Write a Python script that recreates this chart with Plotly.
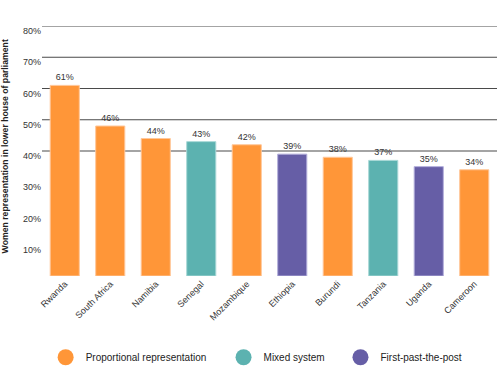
import plotly.graph_objects as go

countries = ["Rwanda", "South Africa", "Namibia", "Senegal", "Mozambique",
             "Ethiopia", "Burundi", "Tanzania", "Uganda", "Cameroon"]
bar_values = [61, 48, 44, 43, 42, 39, 38, 37, 35, 34]
value_labels = ["61%", "46%", "44%", "43%", "42%", "39%", "38%", "37%", "35%", "34%"]
systems = ["PR", "PR", "PR", "MX", "PR", "FP", "PR", "MX", "FP", "PR"]

system_order = ["PR", "MX", "FP"]
system_names = {"PR": "Proportional representation", "MX": "Mixed system", "FP": "First-past-the-post"}
system_colors = {"PR": "#FF9638", "MX": "#5CB2B0", "FP": "#665EA6"}
system_edges = {"PR": "#FFC79A", "MX": "#A8D8D6", "FP": "#B3AEDB"}
legend_x = {"PR": 0.008, "MX": 0.399, "FP": 0.656}

y_ticks = [10, 20, 30, 40, 50, 60, 70, 80]
grid_values = [40, 50, 60, 70, 80]

FONT = "Liberation Sans, Arial, sans-serif"

fig = go.Figure()
fig.add_trace(go.Bar(
    x=countries, y=bar_values,
    marker=dict(color=[system_colors[s] for s in systems],
                line=dict(color=[system_edges[s] for s in systems], width=1)),
    text=value_labels, textposition="outside", cliponaxis=False,
    textfont=dict(size=9, color="#333333", family=FONT),
    showlegend=False, hoverinfo="x+y",
))
legend_layouts = {}
for i, key in enumerate(system_order):
    lname = "legend" if i == 0 else f"legend{i+1}"
    fig.add_trace(go.Scatter(
        x=[None], y=[None], mode="markers", name=system_names[key], legend=lname,
        marker=dict(symbol="circle", size=18, color=system_colors[key]),
    ))
    legend_layouts[lname] = dict(orientation="h", x=legend_x[key], xanchor="left",
                                 y=-0.325, yanchor="middle",
                                 font=dict(size=10, color="#222222"),
                                 bgcolor="rgba(0,0,0,0)")

shapes = [dict(type="line", xref="paper", x0=0, x1=1, yref="y", y0=g, y1=g,
               line=dict(color="#4a4a4a", width=1.2), layer="below") for g in grid_values]

fig.update_layout(
    width=497, height=369,
    margin=dict(l=42, r=0, t=26, b=92.5, autoexpand=False),
    paper_bgcolor="white", plot_bgcolor="white",
    font=dict(family=FONT, size=9, color="#333333"),
    bargap=0.36,
    shapes=shapes,
    xaxis=dict(categoryorder="array", categoryarray=countries, tickangle=-45,
               showgrid=False, showline=False, ticks="", zeroline=False,
               automargin=False, tickfont=dict(size=9, color="#333333")),
    yaxis=dict(range=[0, 80], tickvals=y_ticks, ticktext=[f"{v}%" for v in y_ticks],
               showgrid=False, zeroline=False, showline=False, ticks="",
               automargin=False, ticklabelshift=5,
               tickfont=dict(size=9, color="#333333")),
    annotations=[dict(text="<b>Women representation in lower house of parliament</b>",
                      xref="paper", yref="paper", x=-0.081, y=0.519,
                      xanchor="center", yanchor="middle", textangle=-90,
                      showarrow=False, font=dict(size=8.7, color="#222222"))],
    **legend_layouts,
)

# remove the browser's default 8px body margin so the figure fills the window
fig.write_html("out.html", config={"displayModeBar": False},
               post_script="document.body.style.margin='0';")
